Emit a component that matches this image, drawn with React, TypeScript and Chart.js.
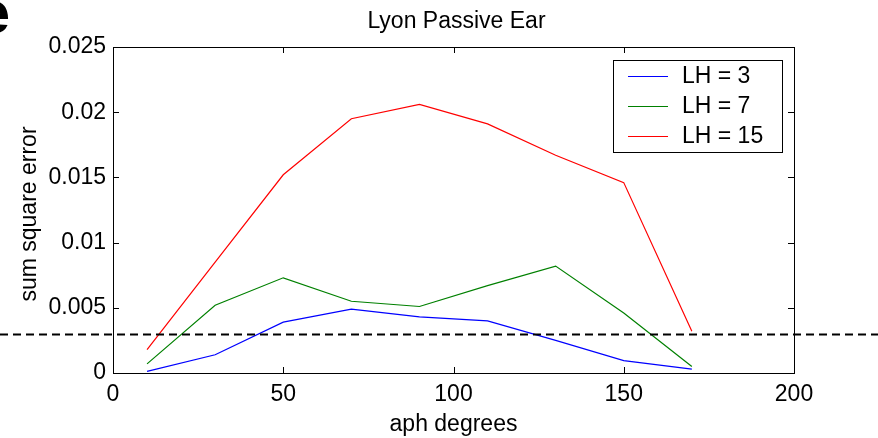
import React, { useEffect, useRef } from 'react';
import { Chart, registerables } from 'chart.js';

Chart.register(...registerables);

const angles = [10, 30, 50, 70, 90, 110, 130, 150, 170];
const lh3 = [0.00013, 0.0014, 0.0039, 0.0049, 0.0043, 0.004, 0.0025, 0.00095, 0.0003];
const lh7 = [0.0007, 0.0052, 0.0073, 0.0055, 0.0051, 0.0067, 0.0082, 0.0046, 0.0005];
const lh15 = [0.0018, 0.0085, 0.0152, 0.0195, 0.0206, 0.0191, 0.0167, 0.0146, 0.0032];
const seriesLabels = ['LH = 3', 'LH = 7', 'LH = 15'];
const seriesColors = ['#0000ff', '#008000', '#ff0000'];
const threshold = [0.003];
const xTicks = [0, 50, 100, 150, 200];
const yTicks = [0, 0.005, 0.01, 0.015, 0.02, 0.025];
const yTickLabels = ['0', '0.005', '0.01', '0.015', '0.02', '0.025'];
const titleText = 'Lyon Passive Ear';
const xTitle = 'aph degrees';
const yTitle = 'sum square error';
const panelLabel = 'e';

const FONT = '"Liberation Sans", Arial, Helvetica, sans-serif';
const FS = 23;

export default function App() {
  const ref = useRef<HTMLCanvasElement | null>(null);

  useEffect(() => {
    const canvas = ref.current;
    if (!canvas) return;

    const decor = {
      id: 'decor',
      afterDatasetsDraw(chart: any) {
        const ctx = chart.ctx;
        const a = chart.chartArea;
        const xs = chart.scales.x;
        const ys = chart.scales.y;
        ctx.save();
        // box
        ctx.strokeStyle = '#000';
        ctx.lineWidth = 1;
        ctx.setLineDash([]);
        ctx.strokeRect(Math.round(a.left) + 0.5, Math.round(a.top) + 0.5, Math.round(a.right - a.left), Math.round(a.bottom - a.top));
        // inside ticks
        const TL = 6;
        ctx.beginPath();
        xTicks.forEach((v) => {
          const px = Math.round(xs.getPixelForValue(v)) + 0.5;
          ctx.moveTo(px, a.bottom);
          ctx.lineTo(px, a.bottom - TL);
          ctx.moveTo(px, a.top);
          ctx.lineTo(px, a.top + TL);
        });
        yTicks.forEach((v) => {
          const py = Math.round(ys.getPixelForValue(v)) + 0.5;
          ctx.moveTo(a.left, py);
          ctx.lineTo(a.left + TL, py);
          ctx.moveTo(a.right, py);
          ctx.lineTo(a.right - TL, py);
        });
        ctx.stroke();

        // dashed threshold line across the whole figure
        const ty = Math.round(ys.getPixelForValue(threshold[0])) + 0.5;
        ctx.lineWidth = 2;
        ctx.setLineDash([8, 5]);
        ctx.beginPath();
        ctx.moveTo(0, ty);
        ctx.lineTo(chart.width, ty);
        ctx.stroke();
        ctx.setLineDash([]);

        // legend
        const lx = 613, ly = 60, lw = 169, lh = 92;
        ctx.fillStyle = '#fff';
        ctx.fillRect(lx, ly, lw, lh);
        ctx.lineWidth = 1;
        ctx.strokeStyle = '#000';
        ctx.strokeRect(lx + 0.5, ly + 0.5, lw, lh);
        ctx.font = `${FS}px ${FONT}`;
        ctx.textAlign = 'left';
        ctx.textBaseline = 'middle';
        chart.data.datasets.forEach((ds: any, i: number) => {
          const yy = ly + 16 + i * 30;
          ctx.strokeStyle = ds.borderColor;
          ctx.beginPath();
          ctx.moveTo(lx + 15, yy + 0.5);
          ctx.lineTo(lx + 55, yy + 0.5);
          ctx.stroke();
          ctx.fillStyle = '#000';
          ctx.fillText(ds.label, lx + 69, yy + 1);
        });

        // title
        ctx.fillStyle = '#000';
        ctx.textAlign = 'center';
        ctx.textBaseline = 'alphabetic';
        ctx.font = `${FS}px ${FONT}`;
        ctx.fillText(titleText, (a.left + a.right) / 2 + 3, 28);
        // x title
        ctx.fillText(xTitle, (a.left + a.right) / 2, 431);
        // y title
        ctx.save();
        ctx.translate(36, (a.top + a.bottom) / 2 + 4);
        ctx.rotate(-Math.PI / 2);
        ctx.fillText(yTitle, 0, 0);
        ctx.restore();
        // panel label
        ctx.font = `bold 60px ${FONT}`;
        ctx.textAlign = 'right';
        ctx.fillText(panelLabel, 10, 33);
        ctx.restore();
      },
    };

    const chart = new Chart(canvas, {
      type: 'line',
      data: {
        datasets: [lh3, lh7, lh15].map((vals, i) => ({
          label: seriesLabels[i],
          data: angles.map((x, j) => ({ x, y: vals[j] })),
          borderColor: seriesColors[i],
          backgroundColor: seriesColors[i],
          borderWidth: 1.2,
          pointRadius: 0,
          tension: 0,
          fill: false,
        })),
      },
      options: {
        animation: false,
        responsive: false,
        maintainAspectRatio: false,
        devicePixelRatio: 1,
        layout: { padding: { top: 47, right: 84, left: 0, bottom: 0 } },
        plugins: {
          legend: { display: false },
          title: { display: false },
          tooltip: { enabled: false },
        },
        scales: {
          x: {
            type: 'linear',
            min: 0,
            max: 200,
            afterBuildTicks: (s: any) => {
              s.ticks = xTicks.map((v) => ({ value: v }));
            },
            afterFit: (s: any) => {
              s.height = 65;
            },
            grid: { display: false, drawTicks: false },
            border: { display: false },
            ticks: {
              padding: 8,
              color: '#000',
              font: { family: FONT, size: FS },
              maxRotation: 0,
              autoSkip: false,
              callback: (v: any) => String(v),
            },
          },
          y: {
            type: 'linear',
            min: 0,
            max: 0.025,
            afterBuildTicks: (s: any) => {
              s.ticks = yTicks.map((v) => ({ value: v }));
            },
            afterFit: (s: any) => {
              s.width = 113;
            },
            grid: { display: false, drawTicks: false },
            border: { display: false },
            ticks: {
              padding: 7,
              color: '#000',
              font: { family: FONT, size: FS },
              autoSkip: false,
              callback: (v: any) => {
                const idx = yTicks.findIndex((t) => Math.abs(t - v) < 1e-9);
                return idx >= 0 ? yTickLabels[idx] : '';
              },
            },
          },
        },
      },
      plugins: [decor],
    } as any);

    return () => chart.destroy();
  }, []);

  return (
    <div style={{ position: 'absolute', left: 0, top: 0, width: 878, height: 438, background: '#fff' }}>
      <canvas ref={ref} width={878} height={438} style={{ width: 878, height: 438, display: 'block' }} />
    </div>
  );
}
